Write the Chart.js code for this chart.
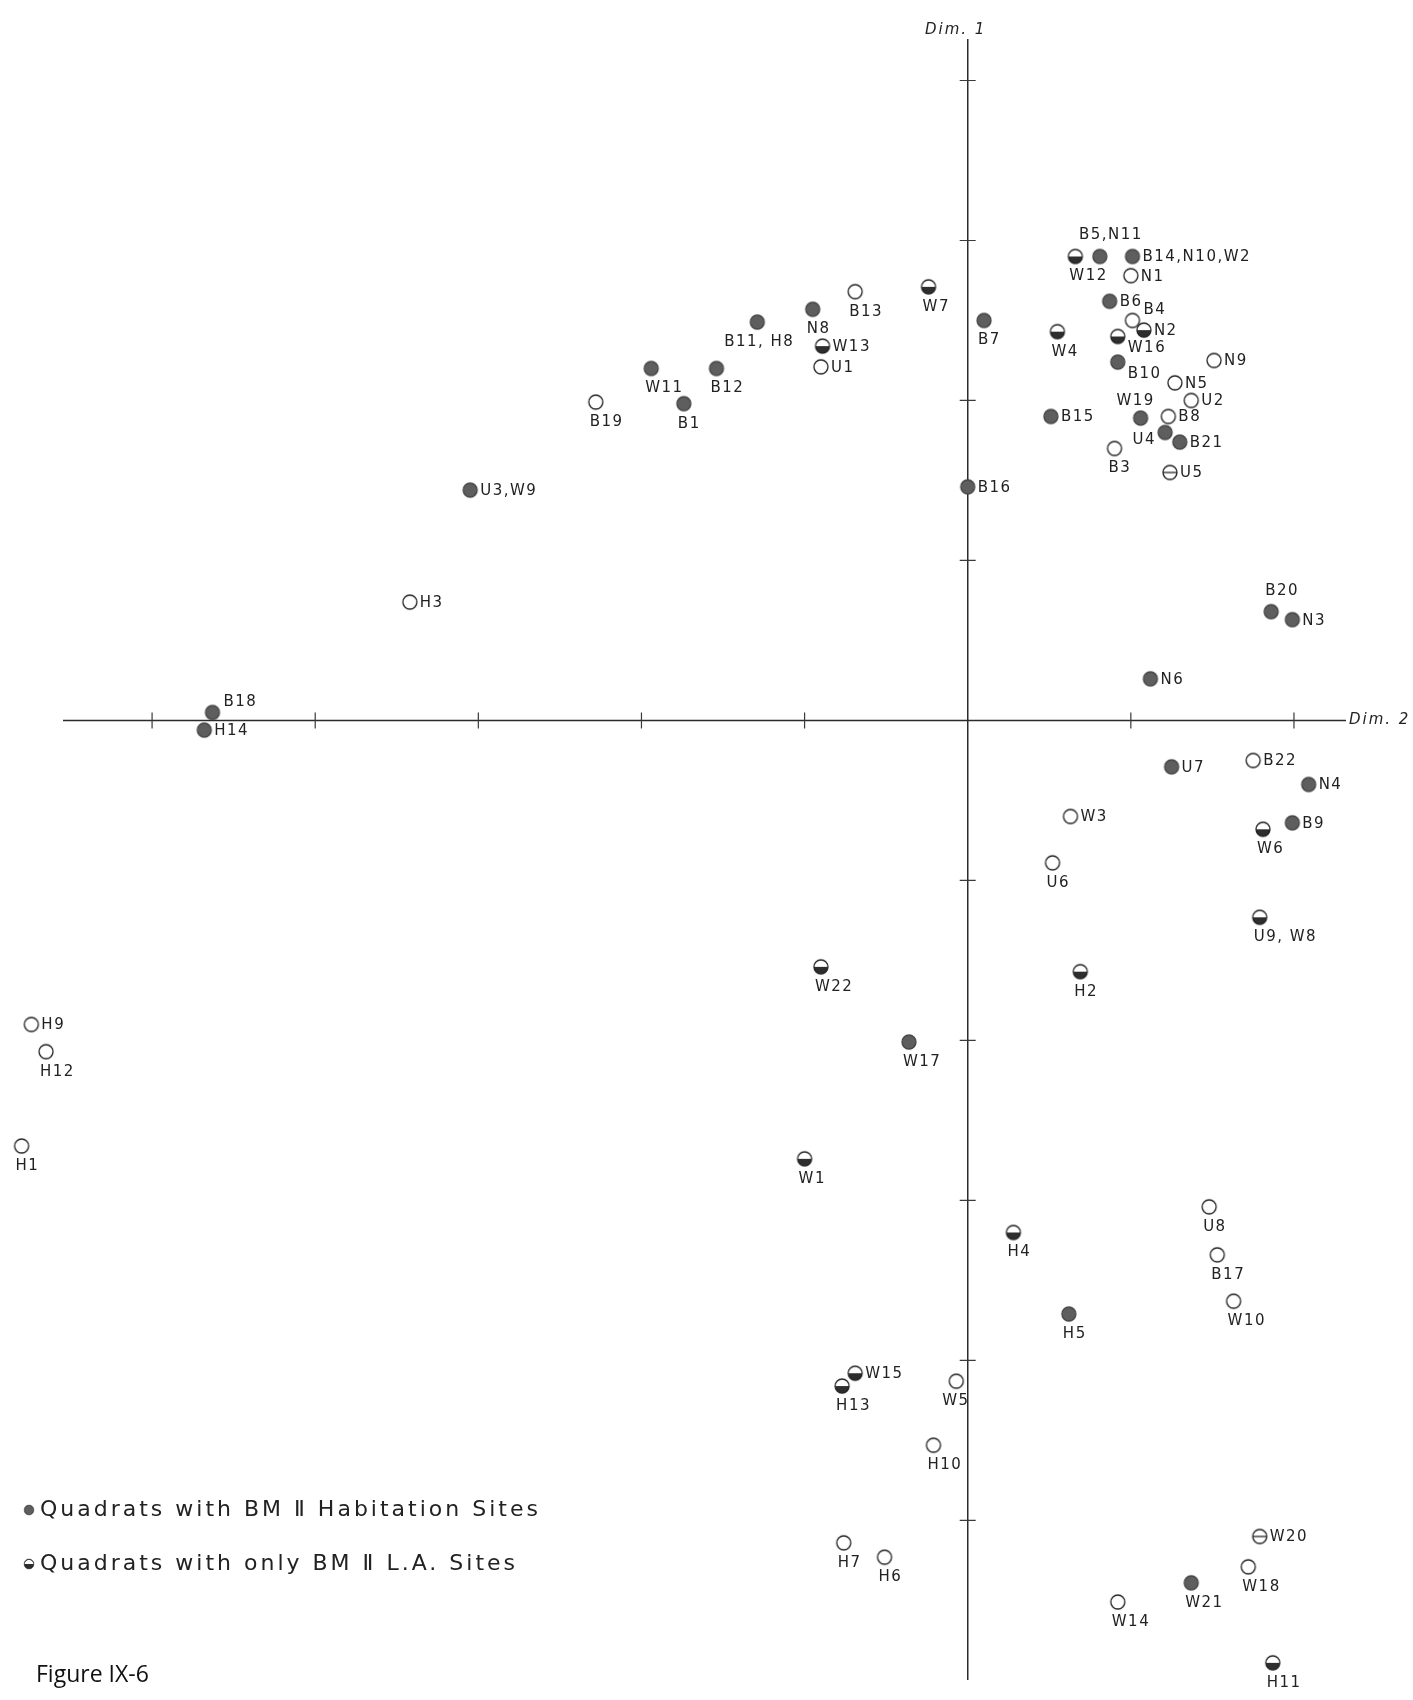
<!DOCTYPE html>
<html>
<head>
<meta charset="utf-8">
<title>Figure IX-6</title>
<script src="https://cdn.jsdelivr.net/npm/chart.js@4.4.1/dist/chart.umd.min.js"></script>
<style>
  html, body { margin: 0; padding: 0; background: #fff; }
  #wrap { position: relative; width: 1413px; height: 1700px; }
</style>
</head>
<body>
<div id="wrap"><canvas id="mdsChart" width="1413" height="1700"></canvas></div>
<script>
// ---- data: [quadrat label, Dim. 2, Dim. 1] (one unit = one tick interval) ----
const habitation = [
  ['B5,N11', 0.81, 2.90], ['B14,N10,W2', 1.01, 2.90], ['B6', 0.87, 2.62],
  ['B7', 0.10, 2.50], ['B10', 0.92, 2.24], ['B15', 0.51, 1.90],
  ['W19', 1.06, 1.89], ['U4', 1.21, 1.80], ['B21', 1.30, 1.74],
  ['B16', 0.00, 1.46], ['N8', -0.95, 2.57], ['B11, H8', -1.29, 2.49],
  ['W11', -1.94, 2.20], ['B12', -1.54, 2.20], ['B1', -1.74, 1.98],
  ['U3,W9', -3.05, 1.44], ['B20', 1.86, 0.68], ['N3', 1.99, 0.63],
  ['N6', 1.12, 0.26], ['B18', -4.63, 0.05], ['H14', -4.68, -0.06],
  ['U7', 1.25, -0.29], ['N4', 2.09, -0.40], ['B9', 1.99, -0.64],
  ['W17', -0.36, -2.01], ['H5', 0.62, -3.71], ['W21', 1.37, -5.39]
];

const laOnly = [
  ['W7', -0.24, 2.71], ['W12', 0.66, 2.90], ['N2', 1.08, 2.44],
  ['W16', 0.92, 2.40], ['W4', 0.55, 2.43], ['W13', -0.89, 2.34],
  ['W6', 1.81, -0.68], ['U9, W8', 1.79, -1.23], ['W22', -0.90, -1.54],
  ['H2', 0.69, -1.57], ['W1', -1.00, -2.74], ['H4', 0.28, -3.20],
  ['W15', -0.69, -4.08], ['H13', -0.77, -4.16], ['H11', 1.87, -5.89]
];

// L.A. quadrats printed with a bar through the circle
const laBarred = [
  ['U5', 1.24, 1.55], ['W20', 1.79, -5.10]
];

const noSites = [
  ['N1', 1.00, 2.78], ['B4', 1.01, 2.50], ['N9', 1.51, 2.25],
  ['N5', 1.27, 2.11], ['U2', 1.37, 2.00], ['B8', 1.23, 1.90],
  ['B3', 0.90, 1.70], ['B13', -0.69, 2.68], ['U1', -0.90, 2.21],
  ['B19', -2.28, 1.99], ['H3', -3.42, 0.74], ['B22', 1.75, -0.25],
  ['W3', 0.63, -0.60], ['U6', 0.52, -0.89], ['H9', -5.74, -1.90],
  ['H12', -5.65, -2.07], ['H1', -5.80, -2.66], ['U8', 1.48, -3.04],
  ['B17', 1.53, -3.34], ['W10', 1.63, -3.63], ['W5', -0.07, -4.13],
  ['H10', -0.21, -4.53], ['H7', -0.76, -5.14], ['H6', -0.51, -5.23],
  ['W18', 1.72, -5.29], ['W14', 0.92, -5.51]
];

const dim2Ticks = [-5, -4, -3, -2, -1, 1, 2];
const dim1Ticks = [4, 3, 2, 1, -1, -2, -3, -4, -5];
const dim2AxisStart = -5.546;   // the printed Dim. 2 axis begins here
const axisTitles = ['Dim. 1', 'Dim. 2'];
const legendTexts = ['Quadrats with BM Ⅱ Habitation Sites', 'Quadrats with only BM Ⅱ L.A. Sites'];
const figureTitle = 'Figure IX-6';

// where each label sits next to its marker (default: below)
const labelSide = {
  'B14,N10,W2':'r', 'B6':'r', 'B15':'r', 'B21':'r', 'B16':'r', 'U3,W9':'r', 'N3':'r',
  'N6':'r', 'H14':'r', 'U7':'r', 'N4':'r', 'B9':'r', 'N2':'r', 'W13':'r', 'W15':'r',
  'U5':'r', 'W20':'r', 'N1':'r', 'N9':'r', 'N5':'r', 'U2':'r', 'B8':'r', 'U1':'r',
  'H3':'r', 'B22':'r', 'W3':'r', 'H9':'r',
  'B5,N11':'a', 'B20':'a', 'W19':'a2', 'B18':'ar', 'B4':'ar',
  'W16':'br', 'B10':'br', 'U4':'l', 'W5':'bl', 'B11, H8':'bc'
};
const PLACE = {
  r:  { align: 'left',   dx: 10,  dy: 1 },
  b:  { align: 'left',   dx: -6,  dy: 20 },
  bc: { align: 'center', dx: 2,   dy: 20 },
  bl: { align: 'left',   dx: -14, dy: 20 },
  a:  { align: 'center', dx: 11,  dy: -21 },
  a2: { align: 'center', dx: -5,  dy: -17 },
  ar: { align: 'left',   dx: 11,  dy: -10 },
  br: { align: 'left',   dx: 10,  dy: 12 },
  l:  { align: 'right',  dx: -9,  dy: 8 }
};

// ---- marker glyphs (drawn once, used as point styles) ----
function makeMarker(kind) {
  const r = 7, s = 2 * r + 4, m = s / 2;
  const c = document.createElement('canvas');
  c.width = c.height = s;
  const g = c.getContext('2d');
  const circle = () => { g.beginPath(); g.arc(m, m, r, 0, 2 * Math.PI); };
  circle(); g.fillStyle = kind === 'filled' ? '#5e5e5e' : '#fff'; g.fill();
  if (kind === 'half') {
    g.beginPath(); g.arc(m, m, r, 0, Math.PI); g.closePath();
    g.fillStyle = '#2e2e2e'; g.fill();
  }
  if (kind === 'barred') {
    g.beginPath(); g.moveTo(m - r, m); g.lineTo(m + r, m);
    g.strokeStyle = '#222'; g.lineWidth = 1.3; g.stroke();
  }
  circle();
  g.strokeStyle = kind === 'filled' ? '#444' : '#222';
  g.lineWidth = 1.3; g.stroke();
  return c;
}
const markers = {
  filled: makeMarker('filled'), half: makeMarker('half'),
  barred: makeMarker('barred'), open: makeMarker('open')
};

const toPoints = rows => rows.map(([name, x, y]) => ({ x, y, name }));
const dataset = (label, rows, style) => ({
  label, data: toPoints(rows), pointStyle: markers[style],
  pointRadius: 7, pointHoverRadius: 7, clip: false, showLine: false
});

// ---- decorations: Dim. 2 axis line, cross ticks, titles, point labels, legend ----
const decor = {
  id: 'decor',
  afterDraw(chart) {
    const { ctx, chartArea, scales: { x, y } } = chart;
    const x0 = x.getPixelForValue(0), y0 = y.getPixelForValue(0);
    ctx.save();
    ctx.strokeStyle = '#2b2b2b';
    ctx.lineWidth = 1.5;
    ctx.beginPath();
    ctx.moveTo(x.getPixelForValue(dim2AxisStart), y0);
    ctx.lineTo(chartArea.right, y0);
    ctx.stroke();

    ctx.strokeStyle = '#3a3a3a';
    ctx.lineWidth = 1.2;
    ctx.beginPath();
    dim2Ticks.forEach(v => { const px = x.getPixelForValue(v); ctx.moveTo(px, y0 - 8); ctx.lineTo(px, y0 + 8); });
    dim1Ticks.forEach(v => { const py = y.getPixelForValue(v); ctx.moveTo(x0 - 8, py); ctx.lineTo(x0 + 8, py); });
    ctx.stroke();

    ctx.fillStyle = '#222';
    ctx.textBaseline = 'middle';
    ctx.letterSpacing = '2px';
    ctx.font = 'italic 15px "DejaVu Sans"';
    ctx.textAlign = 'center';
    ctx.fillText(axisTitles[0], x0 - 12, chartArea.top - 10);
    ctx.textAlign = 'left';
    ctx.fillText(axisTitles[1], chartArea.right + 3, y0);

    // point labels
    ctx.font = '15px "DejaVu Sans"';
    ctx.letterSpacing = '1.5px';
    chart.data.datasets.forEach((ds, i) => {
      chart.getDatasetMeta(i).data.forEach((pt, j) => {
        const name = ds.data[j].name;
        const p = PLACE[labelSide[name] || 'b'];
        ctx.textAlign = p.align;
        ctx.fillText(name, pt.x + p.dx, pt.y + p.dy);
      });
    });

    // legend (bottom left)
    ctx.font = '22px "DejaVu Sans"';
    ctx.letterSpacing = '3px';
    ctx.textAlign = 'left';
    [[markers.filled, 1510], [markers.half, 1564]].forEach(([img, ly], k) => {
      ctx.drawImage(img, 23, ly - 6, 12, 12);
      ctx.fillText(legendTexts[k], 40, ly);
    });

    ctx.letterSpacing = '0px';
    ctx.font = '23px "Open Sans"';
    ctx.fillStyle = '#111';
    ctx.fillText(figureTitle, 36, 1675);
    ctx.restore();
  }
};

const axisOpts = (min, max, pos, border) => ({
  type: 'linear', min, max, position: pos,
  ticks: { display: false },
  grid: { display: false, drawTicks: false, drawOnChartArea: false },
  border: { display: border, color: '#2b2b2b', width: 1.5 }
});

new Chart(document.getElementById('mdsChart'), {
  type: 'scatter',
  data: {
    datasets: [
      dataset('Quadrats with BM II Habitation Sites', habitation, 'filled'),
      dataset('Quadrats with only BM II L.A. Sites', laOnly, 'half'),
      dataset('L.A. sites (barred)', laBarred, 'barred'),
      dataset('Other quadrats', noSites, 'open')
    ]
  },
  options: {
    responsive: false,
    devicePixelRatio: 1,
    animation: false,
    layout: { padding: { left: 10, right: 67, top: 40, bottom: 21 } },
    plugins: { legend: { display: false }, tooltip: { enabled: false } },
    scales: {
      x: axisOpts(-5.871, 2.319, { y: 0 }, false),
      y: axisOpts(-5.991, 4.253, { x: 0 }, true)
    }
  },
  plugins: [decor]
});
</script>
</body>
</html>
